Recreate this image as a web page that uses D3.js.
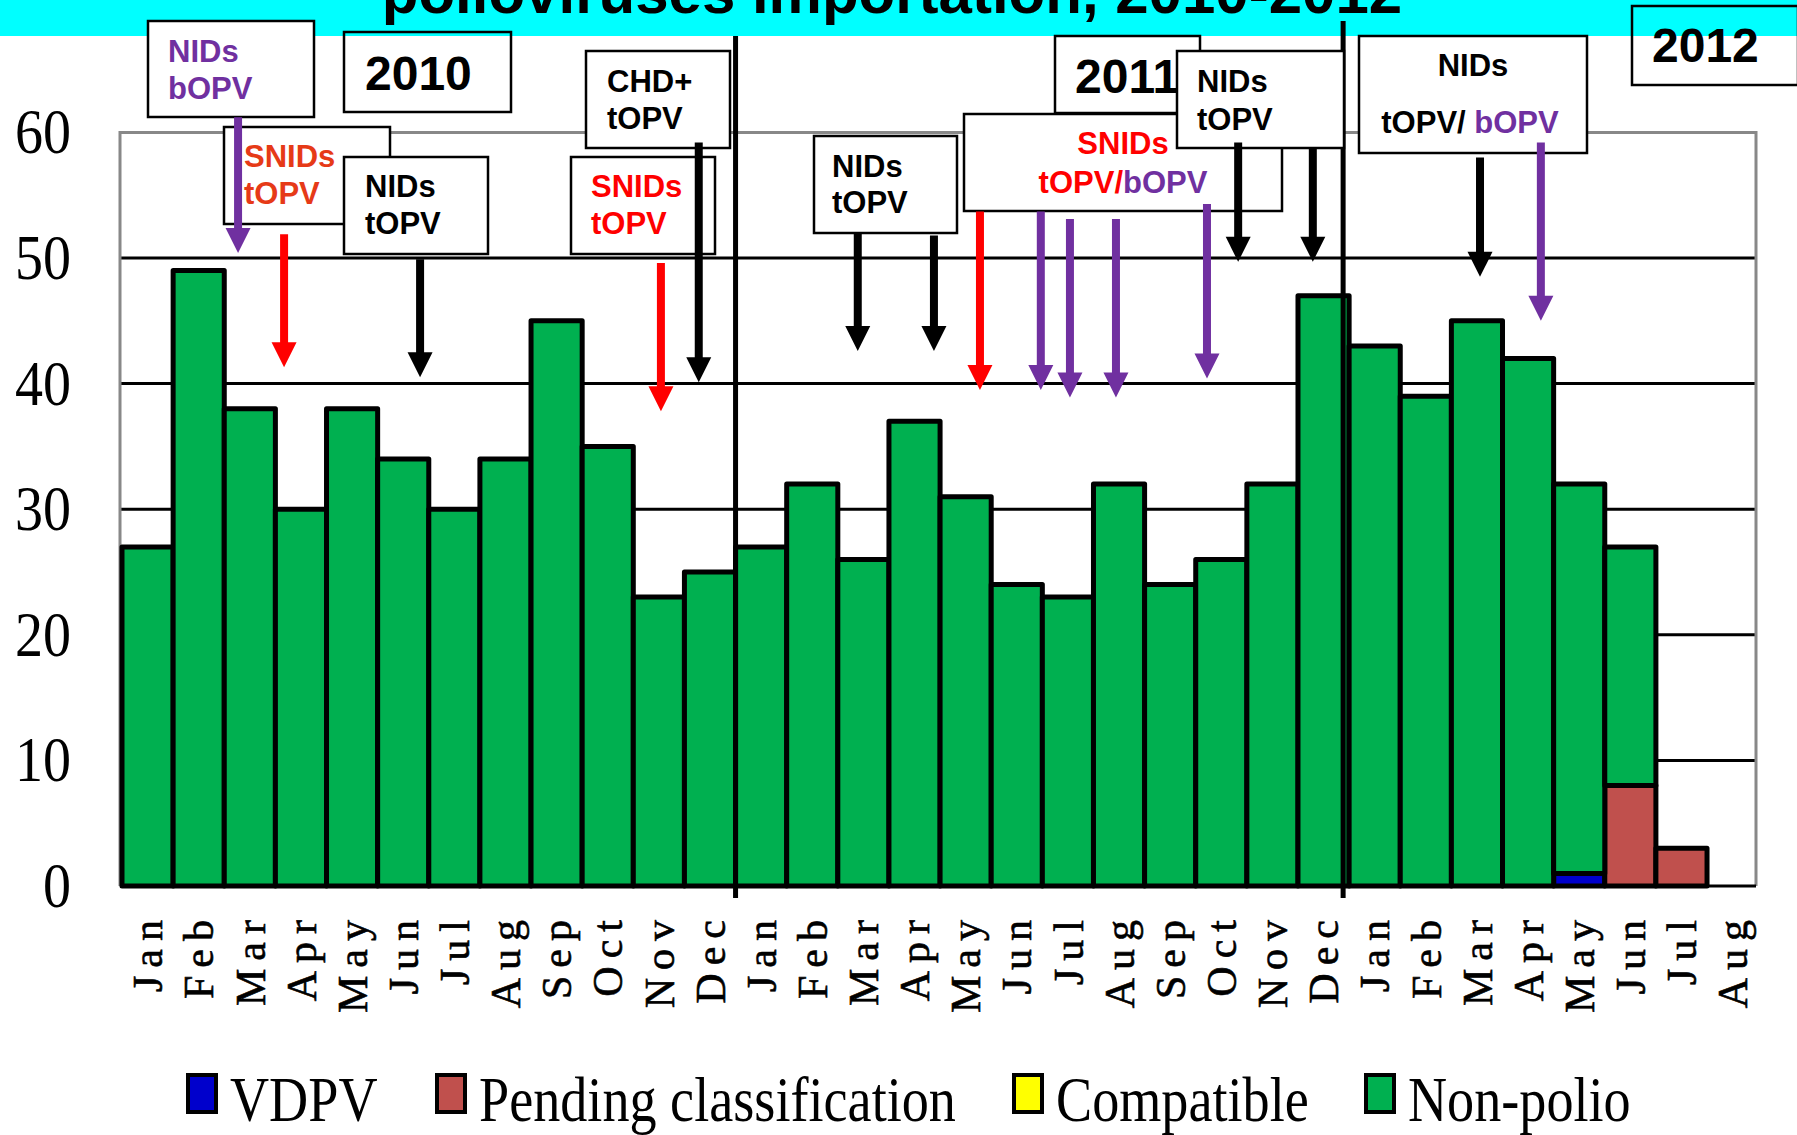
<!DOCTYPE html>
<html>
<head>
<meta charset="utf-8">
<script src="https://cdn.jsdelivr.net/npm/d3@7"></script>
<style>
  body { margin: 0; background: #fff; }
  svg { display: block; }
</style>
</head>
<body>
<script>
// Month labels, Jan 2010 .. Aug 2012
var monthLabels = ["Jan","Feb","Mar","Apr","May","Jun","Jul","Aug","Sep","Oct","Nov","Dec",
                   "Jan","Feb","Mar","Apr","May","Jun","Jul","Aug","Sep","Oct","Nov","Dec",
                   "Jan","Feb","Mar","Apr","May","Jun","Jul","Aug"];

// Case counts per month, by classification
var vdpv       = [0,0,0,0,0,0,0,0,0,0,0,0, 0,0,0,0,0,0,0,0,0,0,0,0, 0,0,0,0,1,0,0,0];
var pending    = [0,0,0,0,0,0,0,0,0,0,0,0, 0,0,0,0,0,0,0,0,0,0,0,0, 0,0,0,0,0,8,3,0];
var compatible = [0,0,0,0,0,0,0,0,0,0,0,0, 0,0,0,0,0,0,0,0,0,0,0,0, 0,0,0,0,0,0,0,0];
var nonPolio   = [27,49,38,30,38,34,30,34,45,35,23,25,
                  27,32,26,37,31,24,23,32,24,26,32,47,
                  43,39,45,42,31,19,0,0];

var seriesKeys = ["VDPV", "Pending classification", "Compatible", "Non-polio"];
var yTicks = [0, 10, 20, 30, 40, 50, 60];

// Campaign arrows: month position (in months from Jan 2010), start level, tip level
var arrowMonth = [2.27, 3.17, 5.83, 10.54, 11.28, 14.39, 15.88, 16.78, 17.97, 18.54, 19.44, 21.22, 21.83, 23.29, 26.56, 27.75];
var arrowFrom  = [61.2, 51.9, 49.9, 49.6, 59.2, 52.0, 51.8, 53.7, 53.7, 53.1, 53.1, 54.3, 59.2, 58.8, 58.0, 59.2];
var arrowTo    = [50.4, 41.3, 40.5, 37.8, 40.1, 42.6, 42.6, 39.5, 39.5, 38.9, 38.9, 40.4, 49.7, 49.7, 48.5, 45.0];
var arrowKind  = ["b","s","n","r","n","n","n","r","b","b","b","b","n","n","n","b"];

var colors = {
  "VDPV": "#0000CC",
  "Pending classification": "#C0504D",
  "Compatible": "#FFFF00",
  "Non-polio": "#00B050"
};
var arrowColors = { b: "#7030A0", r: "#FF0000", s: "#FF0000", n: "#000000" };
var purple = "#7030A0", red = "#FF0000", orange = "#E63A17";

var svgWidth = 1797;
var svgHeight = 1135;

var svg = d3.select("body")
  .append("svg")
  .attr("width", svgWidth)
  .attr("height", svgHeight);

// Build table for stacking
var table = monthLabels.map(function (m, i) {
  return {
    idx: i,
    "VDPV": vdpv[i],
    "Pending classification": pending[i],
    "Compatible": compatible[i],
    "Non-polio": nonPolio[i]
  };
});

var x = d3.scaleBand()
  .domain(d3.range(monthLabels.length))
  .range([122, 122 + 51.13 * monthLabels.length])
  .padding(0);

var y = d3.scaleLinear()
  .domain([0, 60])
  .range([886, 132.4]);

var plotLeft = 120, plotRight = 1756;

function xAt(pos) { return x(0) + pos * x.step(); }

// cyan title band
svg.append("rect")
  .attr("x", 0).attr("y", 0)
  .attr("width", svgWidth).attr("height", 36)
  .attr("fill", "#00FFFF");

svg.append("text")
  .attr("x", 892)
  .attr("y", 13)
  .attr("text-anchor", "middle")
  .attr("font-family", "Liberation Sans, Arial, sans-serif")
  .attr("font-weight", "bold")
  .attr("font-size", "60px")
  .attr("fill", "#000")
  .text("polioviruses importation, 2010-2012");

// gridlines
svg.append("g")
  .selectAll("line")
  .data(yTicks.filter(d => d > 0 && d < 60))
  .enter()
  .append("line")
  .attr("x1", plotLeft)
  .attr("x2", plotRight)
  .attr("y1", d => y(d))
  .attr("y2", d => y(d))
  .attr("stroke", "#000")
  .attr("stroke-width", 3);

// gray plot frame (left, top, right)
svg.append("path")
  .attr("d", `M${plotLeft},${y(0)}V${y(60)}H${plotRight}V${y(0)}`)
  .attr("fill", "none")
  .attr("stroke", "#888")
  .attr("stroke-width", 3);

// baseline
svg.append("line")
  .attr("x1", plotLeft).attr("x2", plotRight)
  .attr("y1", y(0)).attr("y2", y(0))
  .attr("stroke", "#000")
  .attr("stroke-width", 3);

// stacked bars
var stacked = d3.stack().keys(seriesKeys)(table);

svg.append("g")
  .selectAll("g")
  .data(stacked)
  .enter()
  .append("g")
  .attr("fill", d => colors[d.key])
  .selectAll("rect")
  .data(d => d.filter(s => s[1] - s[0] > 0))
  .enter()
  .append("rect")
  .attr("x", d => x(d.data.idx))
  .attr("width", x.bandwidth())
  .attr("y", d => y(d[1]))
  .attr("height", d => y(d[0]) - y(d[1]))
  .attr("stroke", "#000")
  .attr("stroke-width", 5)
  .attr("stroke-linejoin", "round");

// y axis
var leftAxis = d3.axisLeft(y).tickValues(yTicks).tickSize(0).tickPadding(49);
var yAxisG = svg.append("g")
  .attr("transform", `translate(${plotLeft},0)`)
  .call(leftAxis);
yAxisG.select(".domain").remove();
yAxisG.selectAll("text")
  .attr("font-family", "Liberation Serif, Times New Roman, serif")
  .attr("font-size", "64px")
  .attr("fill", "#000")
  .attr("x", -49 / 0.875)
  .attr("transform", "scale(0.875,1)");

// x axis
var bottomAxis = d3.axisBottom(x).tickSize(0).tickFormat(i => monthLabels[i]);
var xAxisG = svg.append("g")
  .attr("transform", `translate(0,${y(0)})`)
  .call(bottomAxis);
xAxisG.select(".domain").remove();
xAxisG.selectAll("text")
  .attr("font-family", "Liberation Serif, Times New Roman, serif")
  .attr("font-size", "42px")
  .attr("letter-spacing", "8px")
  .attr("fill", "#000")
  .attr("stroke", "#000")
  .attr("stroke-width", 0.6)
  .attr("transform", "rotate(-90)")
  .attr("x", -26)
  .attr("y", 0)
  .attr("dy", "0.35em")
  .style("text-anchor", "end");

// year dividers
svg.append("line")
  .attr("x1", x(12)).attr("x2", x(12))
  .attr("y1", 36).attr("y2", 898)
  .attr("stroke", "#000").attr("stroke-width", 5);
svg.append("line")
  .attr("x1", x(24) - 6).attr("x2", x(24) - 6)
  .attr("y1", 21).attr("y2", 898)
  .attr("stroke", "#000").attr("stroke-width", 5);

// callout boxes
var callouts = [
  { box: [148, 21, 166, 96], fill: "#fff", lines: [
      { x: 168, y: 62, parts: [["NIDs", purple]] },
      { x: 168, y: 99, parts: [["bOPV", purple]] } ] },
  { box: [344, 32, 167, 80], fill: "none", size: 48, lines: [
      { x: 365, y: 90, parts: [["2010", "#000"]] } ] },
  { box: [224, 127, 166, 97], fill: "#fff", lines: [
      { x: 244, y: 167, parts: [["SNIDs", orange]] },
      { x: 244, y: 204, parts: [["tOPV", orange]] } ] },
  { box: [344, 157, 144, 97], fill: "#fff", lines: [
      { x: 365, y: 197, parts: [["NIDs", "#000"]] },
      { x: 365, y: 234, parts: [["tOPV", "#000"]] } ] },
  { box: [571, 157, 144, 97], fill: "#fff", lines: [
      { x: 591, y: 197, parts: [["SNIDs", red]] },
      { x: 591, y: 234, parts: [["tOPV", red]] } ] },
  { box: [586, 51, 144, 97], fill: "#fff", lines: [
      { x: 607, y: 92, parts: [["CHD+", "#000"]] },
      { x: 607, y: 129, parts: [["tOPV", "#000"]] } ] },
  { box: [814, 136, 143, 97], fill: "#fff", lines: [
      { x: 832, y: 177, parts: [["NIDs", "#000"]] },
      { x: 832, y: 213, parts: [["tOPV", "#000"]] } ] },
  { box: [1055, 36, 145, 77], fill: "#fff", size: 48, lines: [
      { x: 1075, y: 93, parts: [["2011", "#000"]] } ] },
  { box: [964, 114, 318, 97], fill: "#fff", lines: [
      { x: 1123, y: 154, anchor: "middle", parts: [["SNIDs", red]] },
      { x: 1123, y: 193, anchor: "middle", parts: [["tOPV/", red], ["bOPV", purple]] } ] },
  { box: [1177, 51, 167, 97], fill: "#fff", lines: [
      { x: 1197, y: 92, parts: [["NIDs", "#000"]] },
      { x: 1197, y: 130, parts: [["tOPV", "#000"]] } ] },
  { box: [1359, 36, 228, 117], fill: "#fff", lines: [
      { x: 1473, y: 76, anchor: "middle", parts: [["NIDs", "#000"]] },
      { x: 1470, y: 133, anchor: "middle", parts: [["tOPV/ ", "#000"], ["bOPV", purple]] } ] },
  { box: [1632, 6, 166, 79], fill: "none", size: 48, lines: [
      { x: 1652, y: 62, parts: [["2012", "#000"]] } ] }
];

var calloutG = svg.append("g");
callouts.forEach(function (c) {
  var g = calloutG.append("g");
  g.append("rect")
    .attr("x", c.box[0]).attr("y", c.box[1])
    .attr("width", c.box[2]).attr("height", c.box[3])
    .attr("fill", c.fill)
    .attr("stroke", "#000")
    .attr("stroke-width", 2.5);
  c.lines.forEach(function (l) {
    var t = g.append("text")
      .attr("x", l.x).attr("y", l.y)
      .attr("text-anchor", l.anchor || "start")
      .attr("font-family", "Liberation Sans, Arial, sans-serif")
      .attr("font-weight", "bold")
      .attr("font-size", (c.size || 31) + "px")
      .style("white-space", "pre");
    l.parts.forEach(function (p) {
      t.append("tspan").attr("fill", p[1]).text(p[0]);
    });
  });
});

// campaign arrows
var arrowG = svg.append("g");
arrowMonth.forEach(function (m, i) {
  var ax = xAt(m);
  var y1 = y(arrowFrom[i]);
  var tip = y(arrowTo[i]);
  var col = arrowColors[arrowKind[i]];
  var head = 25;
  arrowG.append("line")
    .attr("x1", ax).attr("x2", ax)
    .attr("y1", y1).attr("y2", tip - head + 2)
    .attr("stroke", col)
    .attr("stroke-width", 8);
  arrowG.append("path")
    .attr("d", `M${ax - 12.5},${tip - head}L${ax + 12.5},${tip - head}L${ax},${tip}Z`)
    .attr("fill", col);
});

// legend
var legendSwatchX = [188, 437, 1014, 1366];
var legendG = svg.append("g");
seriesKeys.forEach(function (k, i) {
  legendG.append("rect")
    .attr("x", legendSwatchX[i]).attr("y", 1075)
    .attr("width", 28).attr("height", 37)
    .attr("fill", colors[k])
    .attr("stroke", "#000")
    .attr("stroke-width", 4);
  legendG.append("text")
    .attr("transform", `translate(${legendSwatchX[i] + 42},1121) scale(0.86,1)`)
    .attr("font-family", "Liberation Serif, Times New Roman, serif")
    .attr("font-size", "63px")
    .attr("fill", "#000")
    .text(k);
});
</script>
</body>
</html>
